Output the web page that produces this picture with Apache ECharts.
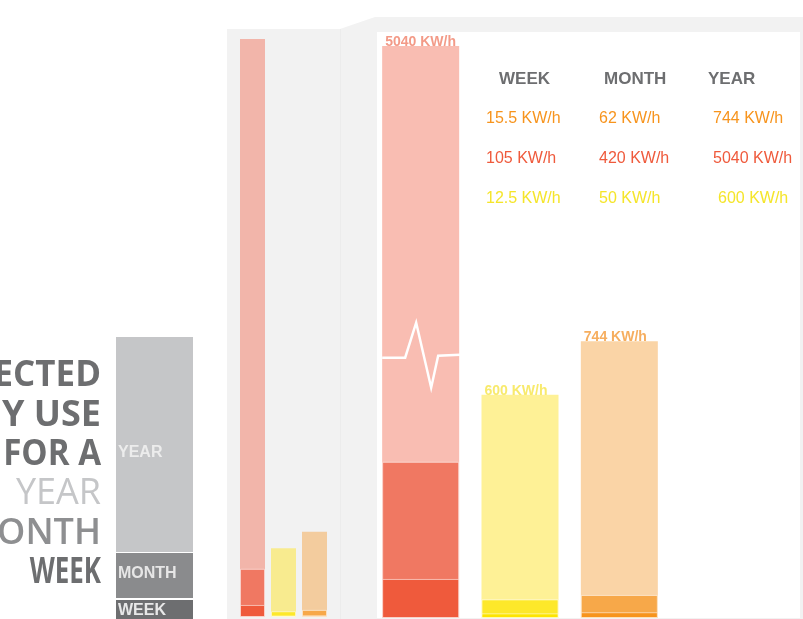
<!DOCTYPE html>
<html>
<head>
<meta charset="utf-8">
<script src="https://cdn.jsdelivr.net/npm/echarts@6/dist/echarts.min.js"></script>
<style>
html, body { margin: 0; padding: 0; background: #fff; }
#main { width: 803px; height: 619px; }
</style>
</head>
<body>
<div id="main"></div>
<script>
// values (KW/h)
var categories = ['red', 'yellow', 'orange'];
var weekValues = [105, 12.5, 15.5];
var monthValues = [420, 50, 62];
var yearValues = [5040, 600, 744];
var periods = ['WEEK', 'MONTH', 'YEAR'];
var tableRows = [2, 0, 1]; // row order in the little table: orange, red, yellow
var titleLines = ['PROJECTED', 'ENERGY USE', 'FOR A', 'YEAR', 'MONTH', 'WEEK'];
var unit = 'KW/h';

// colours
var yearColors = ['#f9bdb2', '#fef196', '#fad4a6'];
var smallYearColors = ['#f2b5aa', '#f8eb8f', '#f3cc9e'];
var monthColors = ['#f07862', '#fde82a', '#f7a849'];
var weekColors = ['#ef5a3c', '#fde500', '#f7941d'];
var labelColors = ['#f39a87', '#f8ea6c', '#f6ae5f'];
var textColors = ['#ef5a3c', '#f5e52a', '#f7941d'];
var titleColors = ['#6d6e70', '#6d6e70', '#6d6e70', '#c5c6c8', '#8e8f91', '#6d6e70'];
var titleWeights = [700, 700, 700, 400, 600, 700];
var titleScale = [0.97, 1.0, 0.92, 1.0, 1.0, 0.72];

// white "pulse" drawn across the broken bar
var pulse = [[0, 0], [23, 0], [34, -35], [49, 30], [56, -2], [78, -3]];

var myChart = echarts.init(document.getElementById('main'));

function barSeries(values, colors, axis, width, z, border, label) {
    return {
        type: 'bar',
        xAxisIndex: axis,
        yAxisIndex: axis,
        barWidth: width,
        barGap: '-100%',
        z: z,
        silent: true,
        data: values.map(function (v, i) {
            return {
                value: v,
                itemStyle: {
                    color: colors[i],
                    borderColor: border ? 'rgba(255,255,255,0.55)' : 'transparent',
                    borderWidth: border ? 1 : 0
                },
                label: label ? { color: labelColors[i] } : undefined
            };
        }),
        label: label ? {
            show: true,
            position: [3, 3],
            align: 'left',
            verticalAlign: 'bottom',
            fontFamily: 'Arial, Liberation Sans, sans-serif',
            fontWeight: 'bold',
            fontSize: 14,
            formatter: '{c} ' + unit
        } : { show: false }
    };
}

var graphics = [];
// grey panels
graphics.push({
    type: 'polygon', z: -10, silent: true,
    shape: { points: [[227, 29], [340, 29], [375, 17], [803, 17], [803, 619], [227, 619]] },
    style: { fill: '#f2f2f2' }
});
graphics.push({
    type: 'line', z: -9, silent: true,
    shape: { x1: 340.5, y1: 29, x2: 340.5, y2: 619 },
    style: { stroke: '#ececec', lineWidth: 1 }
});
graphics.push({
    type: 'rect', z: -8, silent: true,
    shape: { x: 377, y: 32, width: 423, height: 586 },
    style: { fill: '#ffffff' }
});

// grey key bar on the left
var keyRects = [
    { y: 337, h: 215, fill: '#c5c6c8', text: 'YEAR', ty: 453, tc: '#ececec' },
    { y: 553, h: 45, fill: '#8a8b8d', text: 'MONTH', ty: 574, tc: '#e6e6e6' },
    { y: 600, h: 19, fill: '#6d6e70', text: 'WEEK', ty: 611, tc: '#e8e8e8' }
];
keyRects.forEach(function (k) {
    graphics.push({
        type: 'rect', z: -5, silent: true,
        shape: { x: 116, y: k.y, width: 77, height: k.h },
        style: { fill: k.fill }
    });
    graphics.push({
        type: 'text', z: 10, silent: true, x: 118, y: k.ty,
        style: {
            text: k.text, fill: k.tc, align: 'left', verticalAlign: 'middle',
            font: 'bold 16px Arial, "Liberation Sans", sans-serif'
        }
    });
});

// big title, clipped on the left
titleLines.forEach(function (t, i) {
    graphics.push({
        type: 'text', z: 10, silent: true,
        x: 101, y: 376 + i * 39.4, scaleX: titleScale[i],
        style: {
            text: t, fill: titleColors[i], align: 'right', verticalAlign: 'middle',
            font: titleWeights[i] + ' 36px "Open Sans", sans-serif'
        }
    });
});

// little table
var headerX = [499, 604, 708];
var colX = [486, 599, 713];
periods.forEach(function (p, j) {
    graphics.push({
        type: 'text', z: 10, silent: true, x: headerX[j], y: 79,
        style: {
            text: p, fill: '#6d6e70', align: 'left', verticalAlign: 'middle',
            font: 'bold 17px Arial, "Liberation Sans", sans-serif'
        }
    });
});
var periodValues = [weekValues, monthValues, yearValues];
tableRows.forEach(function (c, r) {
    periodValues.forEach(function (vals, j) {
        graphics.push({
            type: 'text', z: 10, silent: true,
            x: colX[j] + (c === 1 && j === 2 ? 5 : 0), y: 119 + r * 40,
            style: {
                text: vals[c] + ' ' + unit, fill: textColors[c],
                align: 'left', verticalAlign: 'middle',
                font: '16px Arial, "Liberation Sans", sans-serif'
            }
        });
    });
});

myChart.setOption({
    animation: false,
    grid: [
        { left: 237, width: 93, top: 39, height: 578 },
        { left: 371, width: 298, top: 46, height: 572 }
    ],
    xAxis: [
        { type: 'category', gridIndex: 0, data: categories, show: false },
        { type: 'category', gridIndex: 1, data: categories, show: false }
    ],
    yAxis: [
        { type: 'value', gridIndex: 0, min: 0, max: 5040, show: false, splitLine: { show: false } },
        {
            type: 'value', gridIndex: 1, min: 0, max: 5040, show: false,
            splitLine: { show: false },
            breaks: [{ start: 900, end: 4402, gap: 0 }],
            breakArea: { show: false }
        }
    ],
    graphic: graphics,
    series: [
        barSeries(yearValues, smallYearColors, 0, 25, 2, false, false),
        barSeries(monthValues, monthColors, 0, 25, 3, true, false),
        barSeries(weekValues, weekColors, 0, 25, 4, true, false),
        barSeries(yearValues, yearColors, 1, 77, 2, false, true),
        barSeries(monthValues, monthColors, 1, 77, 3, true, false),
        barSeries(weekValues, weekColors, 1, 77, 4, true, false),
        {
            type: 'custom',
            xAxisIndex: 1,
            yAxisIndex: 1,
            z: 6,
            silent: true,
            data: [[0, 700]],
            renderItem: function (params, api) {
                var p = api.coord([api.value(0), api.value(1)]);
                var x0 = p[0] - 38.5;
                return {
                    type: 'polyline',
                    shape: { points: pulse.map(function (d) { return [x0 + d[0], p[1] + d[1]]; }) },
                    style: { stroke: '#ffffff', lineWidth: 2.5, fill: null }
                };
            }
        }
    ]
});
</script>
</body>
</html>
